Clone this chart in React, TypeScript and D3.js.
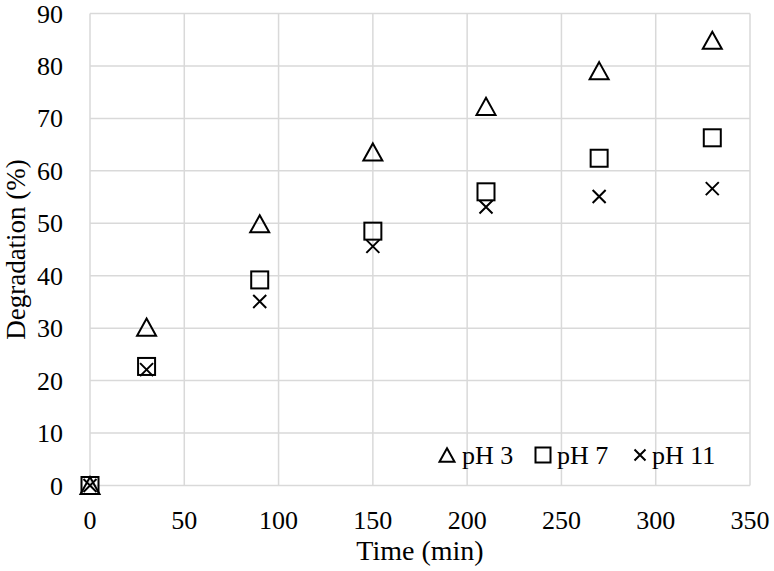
import React from "react";
import * as d3 from "d3";

const times = [0, 30, 90, 150, 210, 270, 330];
const pH3 = [0, 30.2, 49.9, 63.6, 72.3, 79.1, 84.9];
const pH7 = [0, 22.7, 39.2, 48.5, 56.0, 62.4, 66.3];
const pH11 = [0, 22.1, 35.1, 45.6, 53.1, 55.1, 56.6];
const xTicks = [0, 50, 100, 150, 200, 250, 300, 350];
const yTicks = [0, 10, 20, 30, 40, 50, 60, 70, 80, 90];
const seriesNames = ["pH 3", "pH 7", "pH 11"];

const W = 774, H = 571;
const left = 90, right = 750, top = 13.5, bottom = 485.5;
const FONT = "'Liberation Serif', 'Times New Roman', serif";

function Marker({ kind, cx, cy, s }: { kind: string; cx: number; cy: number; s: number }) {
  const sw = 2;
  if (kind === "tri") {
    const h = s * 0.9;
    const p = `M${cx},${cy - h / 2} L${cx + s / 2},${cy + h / 2} L${cx - s / 2},${cy + h / 2} Z`;
    return <path d={p} fill="none" stroke="#000" strokeWidth={sw} strokeLinejoin="miter" />;
  }
  if (kind === "sq") {
    return <rect x={cx - s / 2} y={cy - s / 2} width={s} height={s} fill="none" stroke="#000" strokeWidth={sw} />;
  }
  const r = s / 2;
  return (
    <path d={`M${cx - r},${cy - r} L${cx + r},${cy + r} M${cx - r},${cy + r} L${cx + r},${cy - r}`} stroke="#000" strokeWidth={sw} fill="none" />
  );
}

export default function App() {
  const x = d3.scaleLinear().domain([0, 350]).range([left, right]);
  const y = d3.scaleLinear().domain([0, 90]).range([bottom, top]);
  const series = [
    { data: pH3, kind: "tri", size: 19 },
    { data: pH7, kind: "sq", size: 17 },
    { data: pH11, kind: "x", size: 13 },
  ];
  const legendMarkerX = [447, 543, 640];
  const legendTextX = [462, 557, 652];
  const legendY = 455;
  return (
    <svg width={W} height={H} style={{ position: "absolute", left: 0, top: 0, background: "#fff" }}>
      <rect x={0} y={0} width={W} height={H} fill="#fff" />
      {yTicks.map((t) => (
        <line key={"gy" + t} x1={left} x2={right} y1={y(t)} y2={y(t)} stroke="#d9d9d9" strokeWidth={1.5} />
      ))}
      {xTicks.map((t) => (
        <line key={"gx" + t} x1={x(t)} x2={x(t)} y1={top} y2={bottom} stroke="#d9d9d9" strokeWidth={1.5} />
      ))}
      {yTicks.map((t) => (
        <text key={"ty" + t} x={63} y={y(t)} dy="0.35em" textAnchor="end" fontFamily={FONT} fontSize={26} fill="#000">
          {t}
        </text>
      ))}
      {xTicks.map((t) => (
        <text key={"tx" + t} x={x(t)} y={529} textAnchor="middle" fontFamily={FONT} fontSize={26} fill="#000">
          {t}
        </text>
      ))}
      <text x={420} y={560} textAnchor="middle" fontFamily={FONT} fontSize={28} fill="#000">
        Time (min)
      </text>
      <text transform={`translate(25,${(top + bottom) / 2}) rotate(-90)`} textAnchor="middle" fontFamily={FONT} fontSize={27} fill="#000">
        Degradation (%)
      </text>
      {series.map((s, si) =>
        s.data.map((v, i) => <Marker key={si + "-" + i} kind={s.kind} cx={x(times[i])} cy={y(v)} s={s.size} />)
      )}
      {series.map((s, si) => (
        <g key={"lg" + si}>
          <Marker kind={s.kind} cx={legendMarkerX[si]} cy={legendY} s={s.kind === "x" ? 11 : 15} />
          <text x={legendTextX[si]} y={legendY} dy="0.35em" fontFamily={FONT} fontSize={26} fill="#000">
            {seriesNames[si]}
          </text>
        </g>
      ))}
    </svg>
  );
}
